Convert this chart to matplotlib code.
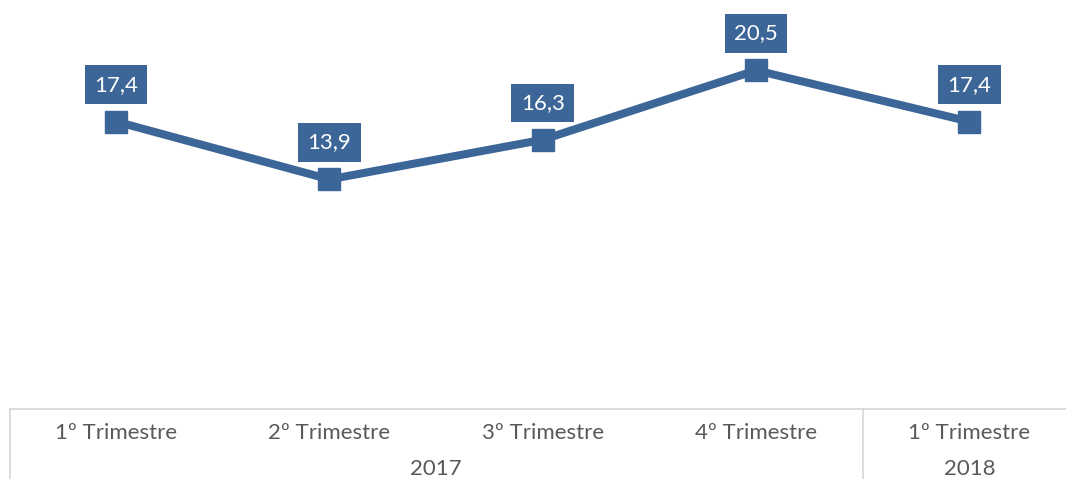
import matplotlib
matplotlib.use('Agg')
import matplotlib.pyplot as plt

# Data
quarters = ['1º Trimestre', '2º Trimestre', '3º Trimestre', '4º Trimestre', '1º Trimestre']
values = [17.4, 13.9, 16.3, 20.5, 17.4]
years = ['2017', '2018']
year_spans = [(0, 3), (4, 4)]

blue = '#3B6697'
grid_grey = '#D9D9D9'
text_grey = '#595959'

plt.rcParams['font.family'] = ['Lato', 'DejaVu Sans']

fig = plt.figure(figsize=(10.66, 4.79), dpi=100)
ax = fig.add_axes([9.5 / 1066, 70 / 479, 1066.5 / 1066, 413 / 479])

x = list(range(len(values)))
ax.plot(x, values, color=blue, linewidth=5.8, marker='s', markersize=16,
        markerfacecolor=blue, markeredgecolor=blue, solid_joinstyle='miter')

# Data labels in boxes
for xi, v in zip(x, values):
    ax.annotate(f'{v:.1f}'.replace('.', ','), (xi, v), xytext=(0, 26.5),
                textcoords='offset points', ha='center', va='center',
                color='white', fontsize=16,
                bbox=dict(boxstyle='square,pad=0.42', fc=blue, ec='none'))

ax.set_xlim(-0.5, len(values) - 0.5)
ax.set_ylim(0, 25)
ax.set_yticks([])
for s in ax.spines.values():
    s.set_visible(False)

# Category axis (two levels)
ax.set_xticks(x, quarters)
ax.tick_params(axis='x', length=0, pad=10, labelsize=16, labelcolor=text_grey)

trans = ax.get_xaxis_transform()
ax.plot([-0.5, len(values) - 0.5], [0, 0], color=grid_grey, lw=1.3,
        transform=trans, clip_on=False)
for b in [-0.5, 3.5, 4.5]:
    ax.plot([b, b], [0, -0.3], color=grid_grey, lw=1.3,
            transform=trans, clip_on=False)
for label, (a, b) in zip(years, year_spans):
    ax.text((a + b) / 2, -0.145, label, transform=trans, ha='center',
            va='center', fontsize=16, color=text_grey)

fig.savefig('out.png', dpi=100)
